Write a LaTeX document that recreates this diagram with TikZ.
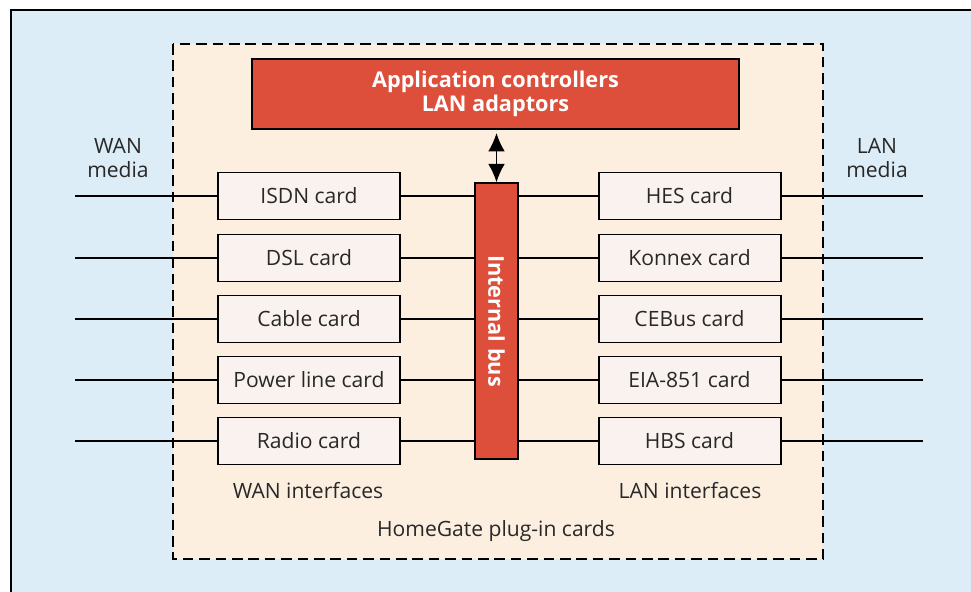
\documentclass[tikz,border=0pt]{standalone}
\usepackage{fontspec}
\setmainfont{Open Sans}
\usetikzlibrary{arrows.meta}
\definecolor{busred}{RGB}{221,79,59}
\definecolor{peach}{RGB}{253,239,224}
\definecolor{skyblue}{RGB}{220,237,247}
\definecolor{cardfill}{RGB}{250,242,238}
\definecolor{inkgray}{RGB}{40,40,40}

\begin{document}
\begin{tikzpicture}[
  font=\fontsize{18}{22}\selectfont,
  card/.style={draw=black,line width=1.7pt,fill=cardfill,text=inkgray,
    minimum width=5.46cm,minimum height=1.41cm,inner sep=0pt},
  redbox/.style={draw=black,line width=1.2pt,fill=busred,text=white,
    font=\fontsize{18.5}{20}\selectfont\bfseries,inner sep=0pt},
  plain/.style={text=inkgray,inner sep=0pt,align=center},
  >={Latex[length=5.5mm,width=5mm]}]
\useasboundingbox (0,0) rectangle (29.13,-17.76);
\fill[skyblue] (0.33,-0.30) rectangle (29.13,-17.76);
\draw[line width=2.4pt] (0.33,-17.76) -- (0.33,-0.30) -- (29.13,-0.30);
\draw[dashed,dash pattern=on 9pt off 5pt,line width=1.4pt,fill=peach]
  (5.19,-1.32) rectangle (24.69,-16.77);

\node[redbox,minimum width=14.61cm,minimum height=2.1cm,align=center] (app) at (14.865,-2.82)
  {Application controllers\\LAN adaptors};
\node[redbox,minimum width=1.29cm,minimum height=8.28cm] (bus) at (14.895,-9.63) {};
\node[rotate=-90,text=white,font=\fontsize{18.5}{20}\selectfont\bfseries] (buslabel) at (bus.center)
  {Internal bus};

\node (isdn) [card] at (9.27,-5.88) {ISDN card};
\node (dsl) [card] at (9.27,-7.74) {DSL card};
\node (cable) [card] at (9.27,-9.57) {Cable card};
\node (power) [card] at (9.27,-11.4) {Power line card};
\node (radio) [card] at (9.27,-13.23) {Radio card};

\node (hes) [card] at (20.685,-5.88) {HES card};
\node (konnex) [card] at (20.685,-7.74) {Konnex card};
\node (cebus) [card] at (20.685,-9.57) {CEBus card};
\node (eia) [card] at (20.685,-11.4) {EIA-851 card};
\node (hbs) [card] at (20.685,-13.23) {HBS card};

\node[plain] (wanmedia) at (3.54,-4.74) {WAN\\[-1pt]media};
\node[plain] (lanmedia) at (26.31,-4.74) {LAN\\[-1pt]media};
\node[plain] (wanif) at (9.24,-14.73) {WAN interfaces};
\node[plain] (lanif) at (20.7,-14.73) {LAN interfaces};
\node[plain] (homegate) at (14.88,-15.93) {HomeGate plug-in cards};

\coordinate (w1) at (2.25,-5.88);
\coordinate (w2) at (2.25,-7.74);
\coordinate (w3) at (2.25,-9.57);
\coordinate (w4) at (2.25,-11.4);
\coordinate (w5) at (2.25,-13.23);
\coordinate (l1) at (27.69,-5.88);
\coordinate (l2) at (27.69,-7.74);
\coordinate (l3) at (27.69,-9.57);
\coordinate (l4) at (27.69,-11.4);
\coordinate (l5) at (27.69,-13.23);

\path[draw,line width=1.2pt]
(w1) -- (isdn.west) (isdn.east) -- (bus.west |- isdn)
(w2) -- (dsl.west) (dsl.east) -- (bus.west |- dsl)
(w3) -- (cable.west) (cable.east) -- (bus.west |- cable)
(w4) -- (power.west) (power.east) -- (bus.west |- power)
(w5) -- (radio.west) (radio.east) -- (bus.west |- radio)
(bus.east |- hes) -- (hes.west) (hes.east) -- (l1)
(bus.east |- konnex) -- (konnex.west) (konnex.east) -- (l2)
(bus.east |- cebus) -- (cebus.west) (cebus.east) -- (l3)
(bus.east |- eia) -- (eia.west) (eia.east) -- (l4)
(bus.east |- hbs) -- (hbs.west) (hbs.east) -- (l5)
;
\draw[<->,line width=1.3pt]
  ([yshift=-0.1cm]app.south -| bus.north) -- (bus.north);
\end{tikzpicture}
\end{document}
